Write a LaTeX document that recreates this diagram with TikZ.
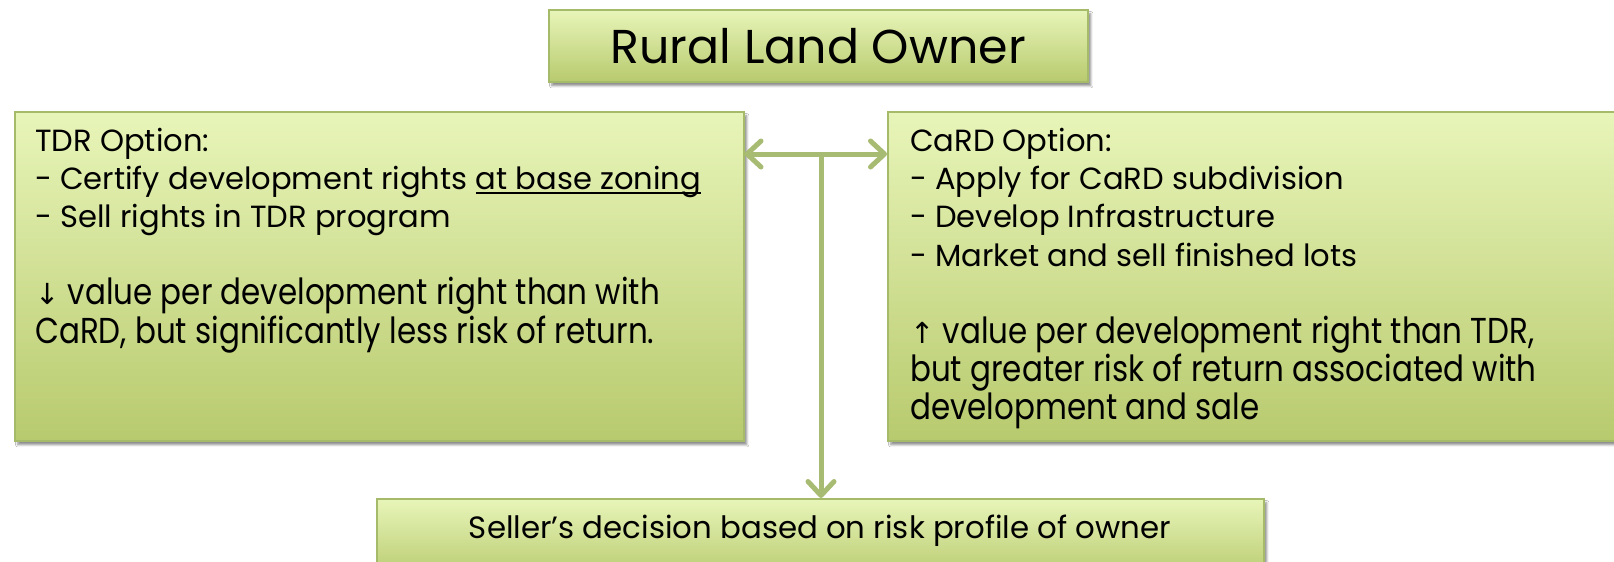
\documentclass[tikz,border=0pt]{standalone}
\usepackage{fontspec}
\setmainfont{Poppins}
\newfontfamily\condfont[FakeStretch=0.86]{Poppins}
\newfontfamily\symfont{DejaVu Sans}
\usetikzlibrary{arrows.meta,shadows.blur}

\definecolor{boxtop}{HTML}{E8F5B9}
\definecolor{boxbot}{HTML}{B8CA6E}
\definecolor{boxline}{HTML}{A6BB6A}
\definecolor{linkcol}{HTML}{A8BB72}

% underline drawn as a solid rule under a phrase
\newcommand\baseul[1]{\setbox0\hbox{#1}\rlap{\rule[-5pt]{\wd0}{2.6pt}}\box0}

\tikzset{
  panel/.style={rectangle, draw=boxline, line width=1.5pt,
    top color=boxtop, bottom color=boxbot, inner sep=0pt, anchor=north west,
    blur shadow={shadow xshift=3pt, shadow yshift=-4pt, shadow blur steps=6, shadow opacity=45}},
  bodyline/.style={anchor=base west, inner sep=0pt, font=\fontsize{30.6}{38}\selectfont},
  condline/.style={anchor=base west, inner sep=0pt, font=\condfont\fontsize{36}{38}\selectfont},
  barb/.tip={Straight Barb[length=14pt, width=26pt, line cap=round, line join=round]},
  conn/.style={draw=linkcol, line width=5pt},
}

\begin{document}
\begin{tikzpicture}[x=1pt, y=-1pt]
  \useasboundingbox[fill=white] (0,0) rectangle (1614,562);

  % boxes
  \node[panel, minimum width=539pt, minimum height=72pt] (owner) at (548,9) {};
  \node[panel, minimum width=729pt, minimum height=329pt] (tdr) at (14,111) {};
  \node[panel, minimum width=745pt, minimum height=329pt] (card) at (887,111) {};
  \node[panel, minimum width=887pt, minimum height=80pt] (seller) at (376,498) {};

  % titles
  \node[inner sep=0pt, font=\fontsize{47.5}{52}\selectfont] (ownertxt) at (owner.center) {Rural Land Owner};
  \node[inner sep=0pt, font=\fontsize{30.8}{34}\selectfont] (sellertxt) at (820,531) {Seller’s decision based on risk profile of owner};

  % TDR option text
  \node[bodyline] (t1) at (35,151) {TDR Option:};
  \node[bodyline] (t2) at (35,189.4) {- Certify development rights \baseul{at base zoning}};
  \node[bodyline] (t3) at (35,227.8) {- Sell rights in TDR program};
  \node[condline] (t4) at (35,304.6) {{\symfont\fontsize{29}{38}\selectfont ↓} value per development right than with};
  \node[condline] (t5) at (35,343) {CaRD, but significantly less risk of return.};

  % CaRD option text
  \node[bodyline] (c1) at (910,151) {CaRD Option:};
  \node[bodyline] (c2) at (910,189.4) {- Apply for CaRD subdivision};
  \node[bodyline] (c3) at (910,227.8) {- Develop Infrastructure};
  \node[bodyline] (c4) at (910,266.2) {- Market and sell finished lots};
  \node[condline] (c5) at (910,343) {{\symfont\fontsize{29}{38}\selectfont ↑} value per development right than TDR,};
  \node[condline] (c6) at (910,381.4) {but greater risk of return associated with};
  \node[condline] (c7) at (910,419.8) {development and sale};

  % connectors
  \coordinate (hub) at (821,154);
  \draw[conn, barb-barb] (tdr.east |- hub) -- (card.west |- hub);
  \draw[conn, -barb] ([yshift=2pt]hub) -- (hub |- seller.north);
\end{tikzpicture}
\end{document}
